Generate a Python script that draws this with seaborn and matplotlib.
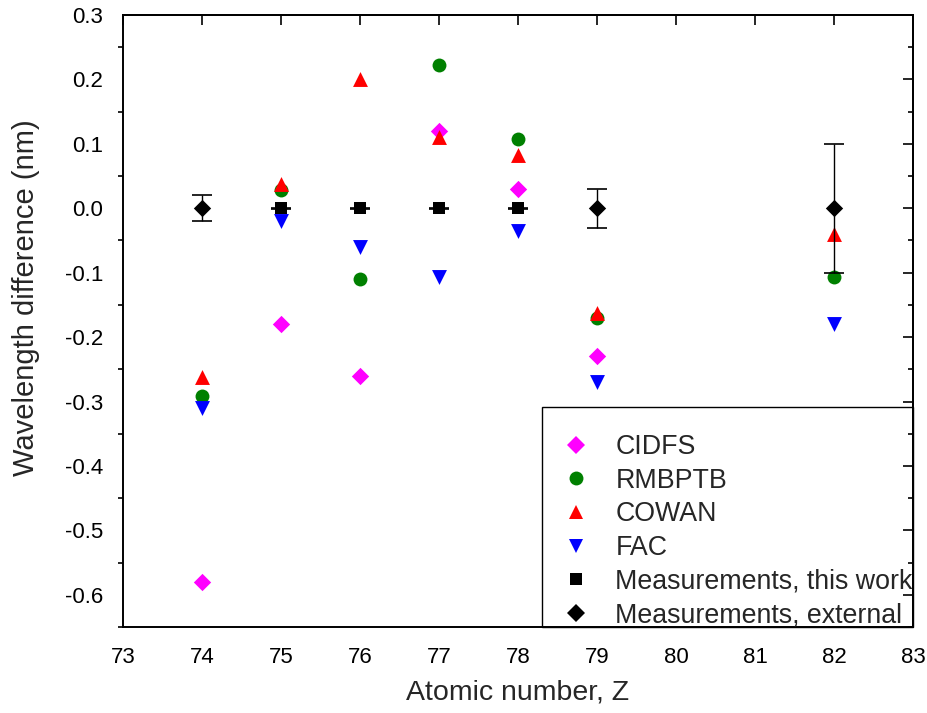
import numpy as np
import pandas as pd
import seaborn as sns
import matplotlib
matplotlib.use("Agg")
import matplotlib.pyplot as plt
from matplotlib.lines import Line2D
from matplotlib.patches import Rectangle
from matplotlib.ticker import MultipleLocator

sns.set_style("white")
plt.rcParams['font.family'] = ['Liberation Sans', 'DejaVu Sans']

# ---- data ----
z_theory = [74, 75, 76, 77, 78, 79, 82]
cidfs_z = [74, 75, 76, 77, 78, 79]
cidfs = [-0.58, -0.18, -0.26, 0.12, 0.03, -0.23]
rmbptb = [-0.292, 0.028, -0.110, 0.222, 0.108, -0.170, -0.107]
cowan = [-0.262, 0.037, 0.200, 0.110, 0.083, -0.163, -0.040]
fac = [-0.310, -0.020, -0.060, -0.107, -0.036, -0.270, -0.180]

meas_this_z = [75, 76, 77, 78]
meas_this = [0.0, 0.0, 0.0, 0.0]
meas_this_err = [0.001, 0.001, 0.001, 0.001]

meas_ext_z = [74, 79, 82]
meas_ext = [0.0, 0.0, 0.0]
meas_ext_err = [0.02, 0.03, 0.10]

labels = ["CIDFS", "RMBPTB", "COWAN", "FAC",
          "Measurements, this work", "Measurements, external"]
colors = {"CIDFS": "#FF00FF", "RMBPTB": "#008000", "COWAN": "#FF0000",
          "FAC": "#0000FF", "Measurements, this work": "#000000",
          "Measurements, external": "#000000"}
markers = {"CIDFS": "D", "RMBPTB": "o", "COWAN": "^", "FAC": "v",
           "Measurements, this work": "s", "Measurements, external": "D"}
sizes = {"CIDFS": 78, "RMBPTB": 100, "COWAN": 115, "FAC": 115,
         "Measurements, this work": 70, "Measurements, external": 78}

frames = [
    pd.DataFrame({"Z": cidfs_z, "diff": cidfs, "method": "CIDFS"}),
    pd.DataFrame({"Z": z_theory, "diff": rmbptb, "method": "RMBPTB"}),
    pd.DataFrame({"Z": z_theory, "diff": cowan, "method": "COWAN"}),
    pd.DataFrame({"Z": z_theory, "diff": fac, "method": "FAC"}),
]
df = pd.concat(frames, ignore_index=True)
mdf = pd.concat([
    pd.DataFrame({"Z": meas_this_z, "diff": meas_this, "err": meas_this_err,
                  "method": "Measurements, this work"}),
    pd.DataFrame({"Z": meas_ext_z, "diff": meas_ext, "err": meas_ext_err,
                  "method": "Measurements, external"}),
], ignore_index=True)

fig = plt.figure(figsize=(9.28, 7.13), dpi=100)
ax = fig.add_axes([123/928, 1-627/713, 790/928, 612/713])

for m in labels[:4]:
    sub = df[df["method"] == m]
    sns.scatterplot(data=sub, x="Z", y="diff", color=colors[m], marker=markers[m],
                    s=sizes[m], linewidth=0, ax=ax, legend=False, zorder=3)

for m in labels[4:]:
    sub = mdf[mdf["method"] == m]
    eb = ax.errorbar(sub["Z"], sub["diff"], yerr=sub["err"], fmt="none",
                     ecolor="black", elinewidth=1.0, capsize=7, capthick=1.2, zorder=4)
    for cl in eb[1]:
        cl.set_color("#555555")
    sns.scatterplot(data=sub, x="Z", y="diff", color=colors[m], marker=markers[m],
                    s=sizes[m], linewidth=0, ax=ax, legend=False, zorder=5)

ax.set_xlim(73, 83)
ax.set_ylim(-0.65, 0.3)
ax.xaxis.set_major_locator(MultipleLocator(1))
ax.yaxis.set_major_locator(MultipleLocator(0.1))
ax.yaxis.set_minor_locator(MultipleLocator(0.05))
ax.yaxis.set_major_formatter(matplotlib.ticker.FormatStrFormatter('%.1f'))

for s in ax.spines.values():
    s.set_linewidth(1.4)
    s.set_color("black")

ax.tick_params(axis='both', which='major', direction='out', length=7.2, width=1.4,
               labelsize=16, colors='black', top=False, right=False, pad=7)
ax.tick_params(axis='y', which='minor', direction='out', length=3.6, width=1.4, left=True)
ax.tick_params(axis='x', which='major', pad=7)

secx = ax.secondary_xaxis('top')
secx.xaxis.set_major_locator(MultipleLocator(1))
secx.tick_params(direction='in', length=7.2, width=1.4, labeltop=False)
secx.spines['top'].set_linewidth(1.4)
secy = ax.secondary_yaxis('right')
secy.yaxis.set_major_locator(MultipleLocator(0.1))
secy.yaxis.set_minor_locator(MultipleLocator(0.05))
secy.tick_params(which='major', direction='in', length=7.2, width=1.4, labelright=False)
secy.tick_params(which='minor', direction='in', length=3.6, width=1.4, labelright=False)
secy.spines['right'].set_linewidth(1.4)

ax.set_xlabel("Atomic number, Z", fontsize=20.5)
ax.set_ylabel("Wavelength difference (nm)", fontsize=21)
ax.xaxis.set_label_coords(0.5, -0.085)
ax.yaxis.set_label_coords(-0.105, 0.538)

# legend frame
ax.add_patch(Rectangle((0.530, 0.0), 0.47, 0.359, transform=ax.transAxes,
                       fill=False, edgecolor="black", linewidth=1.0, zorder=6,
                       clip_on=False))
handles = [Line2D([], [], linestyle="none", marker=markers[m], color=colors[m],
                  markersize=np.sqrt(sizes[m]), markeredgewidth=0) for m in labels]
leg = ax.legend(handles, labels, loc="upper left", bbox_to_anchor=(0.557, 0.315),
                frameon=False, fontsize=19.3, borderpad=0, borderaxespad=0,
                handlelength=1.0, handletextpad=0.95, labelspacing=0.285)
leg.set_zorder(7)

fig.savefig("out.png", dpi=100)
